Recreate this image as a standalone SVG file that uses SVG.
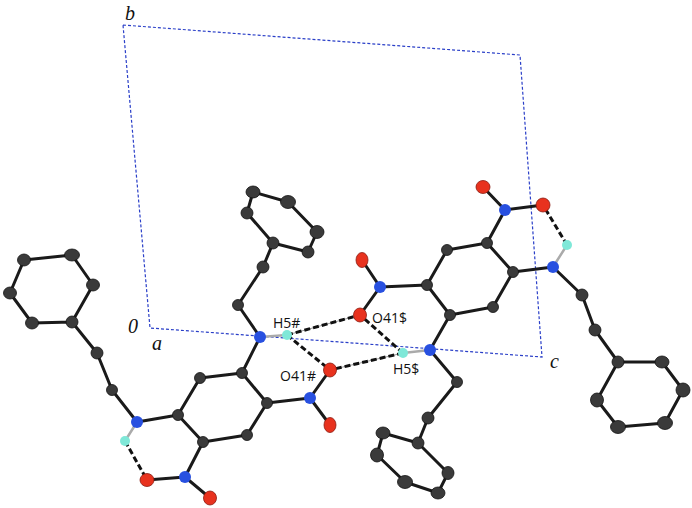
<svg xmlns="http://www.w3.org/2000/svg" width="692" height="508" viewBox="0 0 692 508">
<style>
.b{stroke:#1a1a1a;stroke-width:3;fill:none;stroke-linecap:round;stroke-linejoin:round}
.nh{stroke:#aaa;stroke-width:2.5;fill:none}
.hbg{stroke:#999;stroke-width:1;fill:none}
.hb{stroke:#111;stroke-width:3;stroke-dasharray:6 3;fill:none}
.cell{stroke:#2a3fc8;stroke-width:1.2;stroke-dasharray:3 2;fill:none}
.C{fill:#3a3a3a;stroke:#111;stroke-width:0.8}
.N{fill:#2850e0}
.O{fill:#e8321e;stroke:#8a1a10;stroke-width:0.8}
.H{fill:#7fe8d8}
.lbl{font-family:"Open Sans","Liberation Sans",sans-serif;font-size:14px;fill:#111}
.ax{font-family:"Liberation Serif",serif;font-style:italic;font-size:20px;fill:#111}
</style>
<g id="cell">
<polygon class="cell" points="123,25 520,55 542,357 150,328"/>
<text class="ax" x="125" y="20">b</text>
<text class="ax" x="128" y="333">0</text>
<text class="ax" x="152" y="350">a</text>
<text class="ax" x="550" y="368">c</text>
</g>
<g id="connectors">
<path class="b" d="M10,293 L24,260 L72,255 L93,285 L72,322 L32,323 Z M72,322 L97,353 L112,390 L137,422 L178,415 M178,415 L203,442 L247,435 L267,403 L242,373 L200,378 Z M203,442 L185,477 L147,480 M185,477 L210,498 M267,403 L310,398 L330,370 M310,398 L330,425 M242,373 L260,337 L238,305 L263,267 L273,243 M273,243 L308,252 L317,232 L288,202 L253,192 L247,213 Z"/>
<path class="b" d="M487,243 L447,250 L427,285 L450,315 L493,307 L513,272 Z M487,243 L505,210 L483,187 M505,210 L543,205 M513,272 L553,267 L582,295 L595,330 L618,362 M618,362 L662,362 L683,390 L665,423 L618,427 L597,400 Z M427,285 L380,287 L362,260 M380,287 L360,315 M450,315 L430,350 L457,382 L428,418 L418,443 M418,443 L383,433 L377,455 L405,482 L438,493 L448,473 Z"/>
<path class="nh" d="M137,422 L125,441 M260,337 L287,335 M430,350 L403,353 M553,267 L567,245"/>
<path class="hbg" d="M287,335 L360,315 M403,353 L330,370"/>
<path class="hb" d="M125,441 L147,480 M567,245 L543,205 M287,335 L360,315 M287,335 L330,370 M403,353 L330,370 M403,353 L360,315"/>
</g>
<g id="atoms">
<g class="C">
<ellipse cx="10" cy="293" rx="6.5" ry="6"/><ellipse cx="24" cy="260" rx="6.5" ry="6"/><ellipse cx="72" cy="255" rx="7.5" ry="6"/><ellipse cx="93" cy="285" rx="6.5" ry="6"/><ellipse cx="72" cy="322" rx="6" ry="6"/><ellipse cx="32" cy="323" rx="6.5" ry="6"/>
<circle cx="97" cy="353" r="6"/><circle cx="112" cy="390" r="5.5"/>
<circle cx="178" cy="415" r="5.5"/><circle cx="203" cy="442" r="5.5"/><circle cx="247" cy="435" r="5.5"/><circle cx="267" cy="403" r="5.5"/><circle cx="242" cy="373" r="5.5"/><circle cx="200" cy="378" r="5.5"/>
<circle cx="238" cy="305" r="5.5"/><circle cx="263" cy="267" r="6"/><circle cx="273" cy="243" r="6"/><ellipse cx="308" cy="252" rx="6" ry="6"/><ellipse cx="317" cy="232" rx="7" ry="6.5"/><ellipse cx="288" cy="202" rx="7.5" ry="6.5"/><ellipse cx="253" cy="192" rx="7" ry="6"/><circle cx="247" cy="213" r="6"/>
<circle cx="487" cy="243" r="5.5"/><circle cx="447" cy="250" r="5.5"/><circle cx="427" cy="285" r="5.5"/><circle cx="450" cy="315" r="5.5"/><circle cx="493" cy="307" r="5.5"/><circle cx="513" cy="272" r="5.5"/>
<circle cx="582" cy="295" r="6"/><circle cx="595" cy="330" r="6"/><circle cx="618" cy="362" r="6"/><ellipse cx="662" cy="362" rx="7" ry="6"/><ellipse cx="683" cy="390" rx="7" ry="7"/><ellipse cx="665" cy="423" rx="7.5" ry="6.5"/><ellipse cx="618" cy="427" rx="7.5" ry="6.5"/><ellipse cx="597" cy="400" rx="6.5" ry="7"/>
<circle cx="457" cy="382" r="5.5"/><circle cx="428" cy="418" r="6"/><circle cx="418" cy="443" r="6"/><ellipse cx="383" cy="433" rx="7" ry="6"/><ellipse cx="377" cy="455" rx="6.5" ry="7"/><ellipse cx="405" cy="482" rx="7.5" ry="6.5"/><ellipse cx="438" cy="493" rx="7" ry="6"/><ellipse cx="448" cy="473" rx="6" ry="6.5"/>
</g>
<g class="N">
<circle cx="137" cy="422" r="6"/><circle cx="185" cy="477" r="6"/><circle cx="310" cy="398" r="6"/><circle cx="260" cy="337" r="6"/>
<circle cx="505" cy="210" r="6"/><circle cx="553" cy="267" r="6"/><circle cx="380" cy="287" r="6"/><circle cx="430" cy="350" r="6"/>
</g>
<g class="O">
<ellipse cx="147" cy="480" rx="7" ry="6.5"/><ellipse cx="210" cy="498" rx="6.5" ry="7"/><ellipse cx="330" cy="370" rx="6.5" ry="7"/><ellipse cx="330" cy="425" rx="6" ry="7.5"/>
<ellipse cx="483" cy="187" rx="7" ry="6.5"/><ellipse cx="543" cy="205" rx="7" ry="7"/><ellipse cx="362" cy="260" rx="6" ry="7.5"/><ellipse cx="360" cy="315" rx="6.5" ry="7"/>
</g>
<g class="H">
<circle cx="125" cy="441" r="5"/><circle cx="287" cy="335" r="5"/><circle cx="567" cy="245" r="5"/><circle cx="403" cy="353" r="5"/>
</g>
</g>
<g id="labels">
<text class="lbl" x="273" y="328">H5#</text>
<text class="lbl" x="280" y="381">O41#</text>
<text class="lbl" x="372" y="323">O41$</text>
<text class="lbl" x="393" y="374">H5$</text>
</g>
</svg>
